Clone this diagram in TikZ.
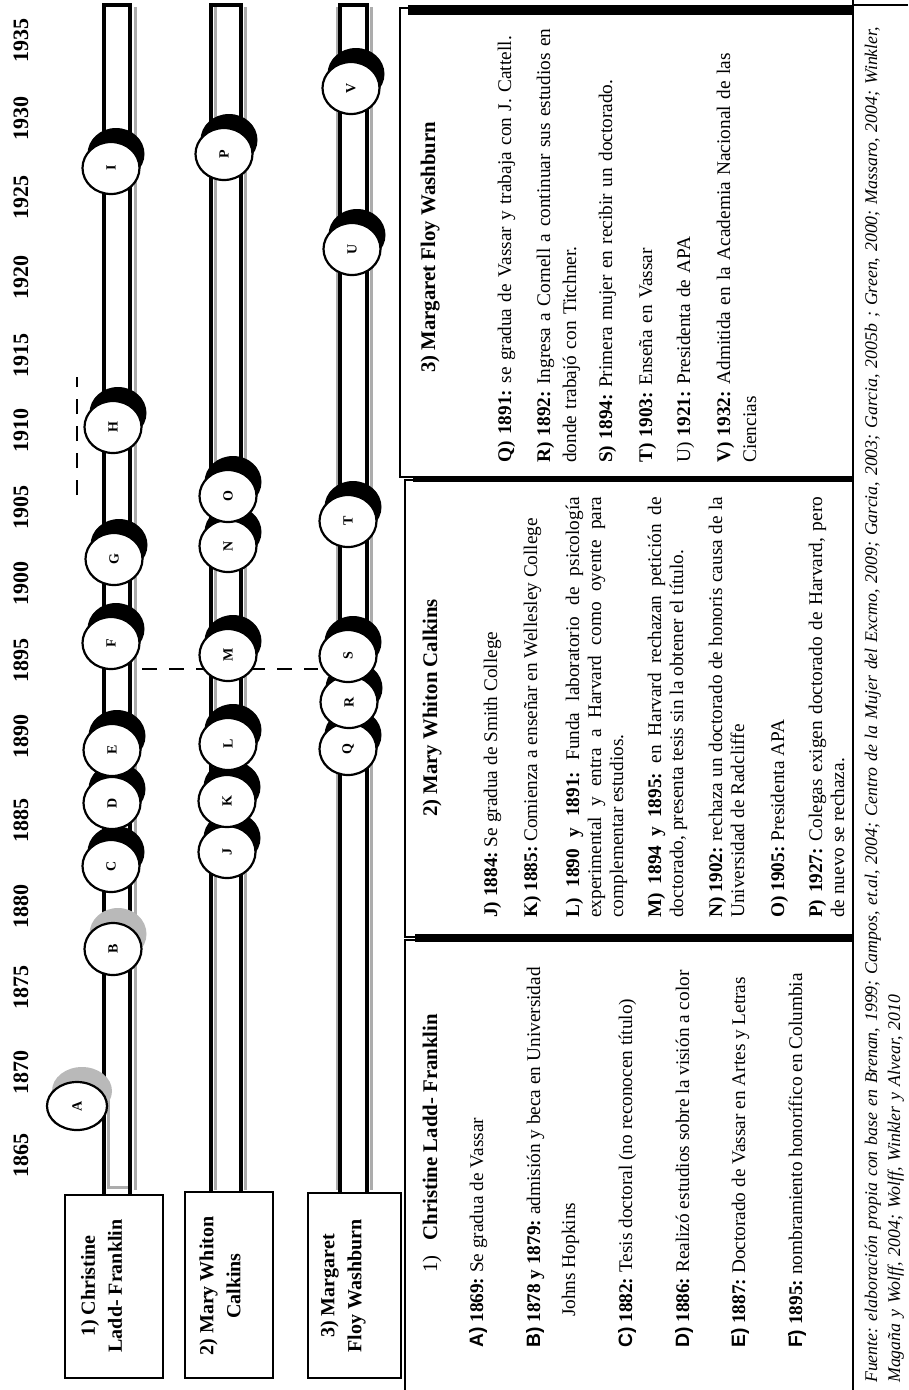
\documentclass[tikz,border=0pt]{standalone}
\usepackage{fontspec}
\usepackage{graphicx}
\setmainfont{Liberation Serif}
\newfontfamily\labsans{Liberation Sans}
\usetikzlibrary{shapes.geometric,shadows}
\frenchspacing

\newcommand{\lab}[1]{{\labsans\bfseries #1}}

\begin{document}
\begin{tikzpicture}[x=1pt, y=-1pt,
  yearlab/.style={font=\fontsize{22}{24}\selectfont\bfseries, rotate=90, inner sep=0pt},
  namebox/.style={draw, line width=1.6pt, rotate=90, inner sep=0pt},
  nametxt/.style={font=\fontsize{20}{27}\selectfont\bfseries, rotate=90, align=center, inner sep=0pt},
  trackline/.style={line width=4pt},
  trackshade/.style={gray!65, line width=3pt},
  evtbase/.style={ellipse, draw, line width=2.2pt, fill=white, minimum width=57pt, minimum height=52pt, inner sep=0pt, font=\fontsize{14}{14}\selectfont\bfseries},
  evt/.style={evtbase, drop shadow={shadow xshift=5pt, shadow yshift=14pt, fill=black, opacity=1}},
  evtg/.style={evtbase, drop shadow={shadow xshift=5pt, shadow yshift=15pt, fill=gray!55, opacity=1}},
  dashline/.style={line width=1.8pt, dash pattern=on 15pt off 12pt},
  boxline/.style={line width=1.2pt},
  ttl/.style={font=\fontsize{20.8}{24}\selectfont\bfseries, rotate=90, anchor=base west, inner sep=0pt},
  itm/.style={font=\fontsize{19.3}{22}\selectfont, rotate=90, anchor=base west, inner sep=0pt},
  itmj/.style={itm, text width=421pt, align=justify},
  itml/.style={itm, text width=440pt, align=left, font=\fontsize{19.3}{26}\selectfont},
  src/.style={font=\fontsize{17.8}{23}\selectfont\itshape, rotate=90, anchor=base west, inner sep=0pt, text width=1370pt, align=left}
]
\useasboundingbox (0,0) rectangle (908,1390);

% text boxes
\draw[boxline] (400,8) rectangle (853,477);
\draw[line width=10pt] (408,10) -- (853,10);
\draw[boxline] (405,480) rectangle (853,937);
\draw[line width=6pt] (413,479) -- (853,479);
\draw[boxline] (405,1400) -- (405,940) -- (853,940);
\draw[line width=8pt] (415,938) -- (853,938);
\draw[boxline] (853,0) -- (853,1390);
\draw[boxline] (853,5) -- (908,5);

% years
\node[yearlab] (y1865) at (21,1155) {1865};
\node[yearlab] (y1870) at (21,1072) {1870};
\node[yearlab] (y1875) at (21,987) {1875};
\node[yearlab] (y1880) at (21,906) {1880};
\node[yearlab] (y1885) at (21,820) {1885};
\node[yearlab] (y1890) at (21,736) {1890};
\node[yearlab] (y1895) at (21,660) {1895};
\node[yearlab] (y1900) at (21,583) {1900};
\node[yearlab] (y1905) at (21,507) {1905};
\node[yearlab] (y1910) at (21,430) {1910};
\node[yearlab] (y1915) at (21,355) {1915};
\node[yearlab] (y1920) at (21,277) {1920};
\node[yearlab] (y1925) at (21,197) {1925};
\node[yearlab] (y1930) at (21,118) {1930};
\node[yearlab] (y1935) at (21,40) {1935};

% name boxes
\node[namebox, minimum width=183pt, minimum height=98pt] (nb1) at (114,1286.5) {};
\node[namebox, minimum width=186pt, minimum height=88pt] (nb2) at (229,1285) {};
\node[namebox, minimum width=185pt, minimum height=93pt] (nb3) at (354.5,1285.5) {};
\node[nametxt] (nt1) at (101.5,1286) {1) Christine\\Ladd- Franklin};
\node[nametxt] (nt2) at (220,1286) {2) Mary Whiton\\Calkins};
\node[nametxt] (nt3) at (343,1286) {3) Margaret\\Floy Washburn};

% tracks
\draw[trackshade] (135,7) -- (135,1190);
\draw[trackshade] (108,1100) -- (108,1187) -- (128,1187);
\draw[trackline] (104,1195) -- (104,5) -- (130,5) -- (130,1195);
\draw[trackshade] (215,7) -- (215,1190);
\draw[trackshade] (245,7) -- (245,1190);
\draw[trackline] (211,1192) -- (211,5) -- (241,5) -- (241,1192);
\draw[trackshade] (337,7) -- (337,1190);
\draw[trackshade] (371,7) -- (371,1190);
\draw[trackline] (340,1193) -- (340,5) -- (367,5) -- (367,1193);

% dashed marks
\draw[dashline] (77,495) -- (77,377);
\coordinate (dM) at (142,669);

% events
\node[evtg, minimum width=60pt, minimum height=48pt] (A) at (77,1106) {\rotatebox{90}{A}};
\node[evtg] (B) at (113,949) {\rotatebox{90}{B}};
\node[evt] (C) at (111,866) {\rotatebox{90}{C}};
\node[evt] (D) at (112,803) {\rotatebox{90}{D}};
\node[evt] (E) at (112,750) {\rotatebox{90}{E}};
\node[evt] (F) at (111,643) {\rotatebox{90}{F}};
\node[evt] (G) at (114,559) {\rotatebox{90}{G}};
\node[evt] (H) at (113,427) {\rotatebox{90}{H}};
\node[evt] (I) at (111,168) {\rotatebox{90}{I}};
\node[evt] (J) at (227,852) {\rotatebox{90}{J}};
\node[evt] (K) at (227,801) {\rotatebox{90}{K}};
\node[evt] (L) at (228,744) {\rotatebox{90}{L}};
\node[evt] (Q) at (348,749) {\rotatebox{90}{Q}};
\node[evt] (R) at (349,702) {\rotatebox{90}{R}};
\node[evt] (S) at (348,656) {\rotatebox{90}{S}};
\draw[dashline] (dM) -- (dM -| S.west);
\node[evt] (M) at (228,655) {\rotatebox{90}{M}};
\node[evt] (N) at (228,546) {\rotatebox{90}{N}};
\node[evt] (O) at (228,496) {\rotatebox{90}{O}};
\node[evt] (P) at (224,154) {\rotatebox{90}{P}};
\node[evt] (T) at (348,521) {\rotatebox{90}{T}};
\node[evt] (U) at (352,249) {\rotatebox{90}{U}};
\node[evt] (V) at (351,88) {\rotatebox{90}{V}};

% box 1
\node[itm, font=\fontsize{20.8}{24}\selectfont] (t1) at (437,1273) {1)\hspace{15pt}\textbf{Christine Ladd- Franklin}};
\node[itm] (ca) at (483,1348) {\lab{A)} \textbf{1869:} Se gradua de Vassar};
\node[itm] (cb) at (540,1348) {\lab{B)} \textbf{1878 y 1879:} admisión y beca en Universidad};
\node[itm] (cb2) at (575,1317) {Johns Hopkins};
\node[itm] (cc) at (632,1348) {\lab{C)} \textbf{1882:} Tesis doctoral (no reconocen título)};
\node[itm] (cd) at (689,1348) {\lab{D)} \textbf{1886:} Realizó estudios sobre la visión a color};
\node[itm] (ce) at (745,1348) {\lab{E)} \textbf{1887:} Doctorado de Vassar en Artes y Letras};
\node[itm] (cf) at (802,1348) {\lab{F)} \textbf{1895:} nombramiento honorífico en Columbia};

% box 2
\node[ttl] (t2) at (437,817) {2) Mary Whiton Calkins};
\node[itmj] (mj) at (497,918) {\textbf{J) 1884:} Se gradua de Smith College};
\node[itmj] (mk) at (537,918) {\textbf{K) 1885:} Comienza a enseñar en Wellesley College};
\node[itmj] (ml) at (579,918) {\textbf{L) 1890 y 1891:} Funda laboratorio de psicología\linebreak experimental y entra a Harvard como oyente para\linebreak complementar estudios.};
\node[itmj] (mm) at (661,918) {\textbf{M) 1894 y 1895:} en Harvard rechazan petición de\linebreak doctorado, presenta tesis sin la obtener el título.};
\node[itmj] (mn) at (722,918) {\textbf{N) 1902:} rechaza un doctorado de honoris causa de la\linebreak Universidad de Radcliffe};
\node[itmj] (mo) at (784,918) {\textbf{O) 1905:} Presidenta APA};
\node[itmj] (mp) at (822,918) {\textbf{P) 1927:} Colegas exigen doctorado de Harvard, pero\linebreak de nuevo se rechaza.};

% box 3
\node[ttl] (t3) at (435,373) {3) Margaret Floy Washburn};
\node[itml] (wq) at (511,463) {\textbf{Q) 1891:} se gradua de Vassar y trabaja con J. Cattell.};
\node[itml] (wr) at (550,463) {\textbf{R) 1892:} Ingresa a Cornell a continuar sus estudios en\\donde trabajó con Titchner.};
\node[itml] (ws) at (612,463) {\textbf{S) 1894:} Primera mujer en recibir un doctorado.};
\node[itml] (wt) at (652,463) {\textbf{T) 1903:} Enseña en Vassar};
\node[itml] (wu) at (690,463) {U) \textbf{1921:} Presidenta de APA};
\node[itml] (wv) at (730,463) {\textbf{V) 1932:} Admitida en la Academia Nacional de las\\Ciencias};

% source
\node[src] (fuente) at (877,1383) {\makebox[1365pt][s]{Fuente: elaboración propia con base en Brenan, 1999; Campos, et.al, 2004; Centro de la Mujer del Excmo, 2009; Garcia, 2003; Garcia, 2005b ; Green, 2000; Massaro, 2004; Winkler,}\\Magaña y Wolff, 2004; Wolff, Winkler y Alvear, 2010};
\end{tikzpicture}
\end{document}
